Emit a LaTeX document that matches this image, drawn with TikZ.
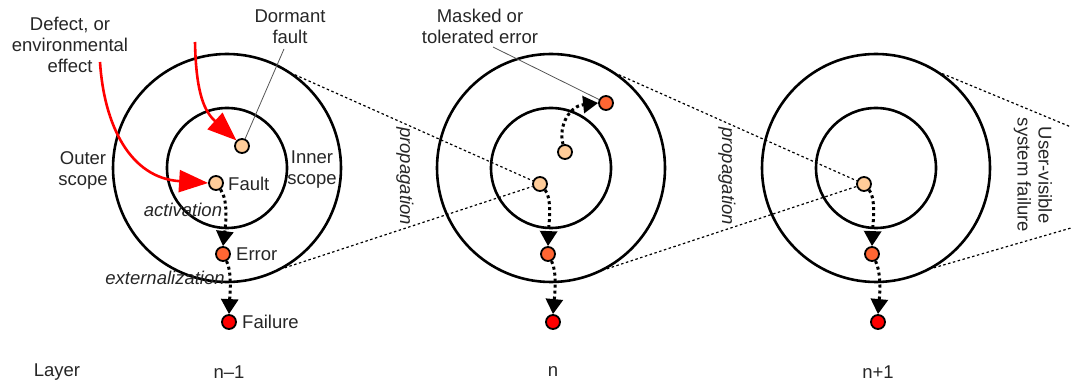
\documentclass[tikz,border=0pt]{standalone}
\usepackage{fontspec}
\setmainfont{Liberation Sans}
\usetikzlibrary{arrows.meta}
\definecolor{peach}{HTML}{FFCC99}
\definecolor{errc}{HTML}{FF6633}
\definecolor{failc}{HTML}{FF0000}
\definecolor{leader}{HTML}{555555}
\begin{document}
\begin{tikzpicture}[x=1pt,y=-1pt,
  ring/.style={circle,draw,line width=2.6pt,inner sep=0pt,minimum size=#1},
  dot/.style={circle,draw,line width=1.8pt,inner sep=0pt,minimum size=14pt,fill=#1},
  lbl/.style={font=\fontsize{18.5}{21}\selectfont,align=center,inner sep=0pt,text=black!85},
  ilbl/.style={lbl,font=\fontsize{18.5}{21}\selectfont\itshape},
  redarrow/.style={draw=failc,line width=2.6pt,-{Triangle[length=29pt,width=22pt,fill=failc]}},
  flow/.style={draw,line width=3pt,dash pattern=on 3pt off 3pt,-{Triangle[length=15pt,width=17pt]}},
  proj/.style={draw,line width=1.2pt,dash pattern=on 2.5pt off 2.5pt},
  leaderline/.style={draw=leader,line width=0.8pt}
]
\useasboundingbox (0,0) rectangle (1071,382);

% ---------- Layer n-1 ----------
\node[ring=228pt] (o1) at (227,168) {};
\node[ring=120pt] (i1) at (227,168) {};
\node[dot=peach] (d1) at (242,146) {};
\node[dot=peach] (f1) at (216,183) {};
\node[dot=errc] (e1) at (223,254) {};
\node[dot=failc] (x1) at (229,322) {};

\node[lbl,anchor=west] (tf1) at (228,184) {Fault};
\node[lbl,anchor=west] (te1) at (236,254) {Error};
\node[lbl,anchor=west] (tx1) at (242,322) {Failure};
\node[lbl] (tdef) at (70,45) {Defect, or\\environmental\\effect};
\node[lbl] (tdorm) at (290,27) {Dormant\\fault};
\node[lbl] (touter) at (83,170) {Outer\\scope};
\node[lbl] (tinner) at (312,170) {Inner\\scope};
\node[ilbl] (tact) at (183,210) {activation};
\node[ilbl] (text) at (165,278) {externalization};

\coordinate (r1s) at (100,62);
\coordinate (r2s) at (195,42);
\draw[redarrow] (r1s) .. controls (104,125) and (130,178) .. (f1.west);
\draw[redarrow] (r2s) .. controls (196,95) and (205,112) .. (d1.north west);
\coordinate (dl) at (284,49);
\draw[leaderline] (dl) -- (d1);

\draw[flow] (f1) .. controls (228,200) and (226,222) .. (e1.north);
\draw[flow] (e1) .. controls (232,272) and (230,292) .. (x1.north);

% ---------- Layer n ----------
\node[ring=228pt] (o2) at (551,168) {};
\node[ring=120pt] (i2) at (551,168) {};
\node[dot=peach] (n1) at (540,184) {};
\node[dot=peach] (n2) at (565,152) {};
\node[dot=errc] (m2) at (606,103) {};
\node[dot=errc] (e2) at (548,254) {};
\node[dot=failc] (x2) at (553,322) {};

\node[lbl] (tmask) at (480,26) {Masked or\\tolerated error};
\coordinate (ml) at (493,47);
\draw[leaderline] (ml) -- (m2);

\draw[flow] (n2) .. controls (558,125) and (570,106) .. (m2.west);
\draw[flow] (n1) .. controls (552,198) and (549,222) .. (e2.north);
\draw[flow] (e2) .. controls (557,272) and (555,292) .. (x2.north);

\node[ilbl,rotate=-90] (tprop1) at (405,176) {propagation};

% ---------- Layer n+1 ----------
\node[ring=228pt] (o3) at (876,168) {};
\node[ring=120pt] (i3) at (876,168) {};
\node[dot=peach] (p1) at (864,184) {};
\node[dot=errc] (e3) at (872,254) {};
\node[dot=failc] (x3) at (878,322) {};

\draw[flow] (p1) .. controls (876,198) and (873,222) .. (e3.north);
\draw[flow] (e3) .. controls (881,272) and (880,292) .. (x3.north);

\node[ilbl,rotate=-90] (tprop2) at (727,176) {propagation};
\node[lbl,rotate=-90] (tuser) at (1033,175) {User-visible\\system failure};

% ---------- projection lines ----------
\draw[proj] (o1.54) -- (n1);
\draw[proj] (o1.-60) -- (n1);
\draw[proj] (o2.54) -- (p1);
\draw[proj] (o2.-61) -- (p1);
\coordinate (rt) at (1071,127);
\coordinate (rb) at (1071,228);
\draw[proj] (o3.55) -- (rt);
\draw[proj] (o3.-60) -- (rb);

% ---------- layer labels ----------
\node[lbl] (tlayer) at (57,372) {Layer};
\node[lbl] (tl1) at (229,372) {n–1};
\node[lbl] (tl2) at (553,372) {n};
\node[lbl] (tl3) at (878,372) {n+1};
\end{tikzpicture}
\end{document}
